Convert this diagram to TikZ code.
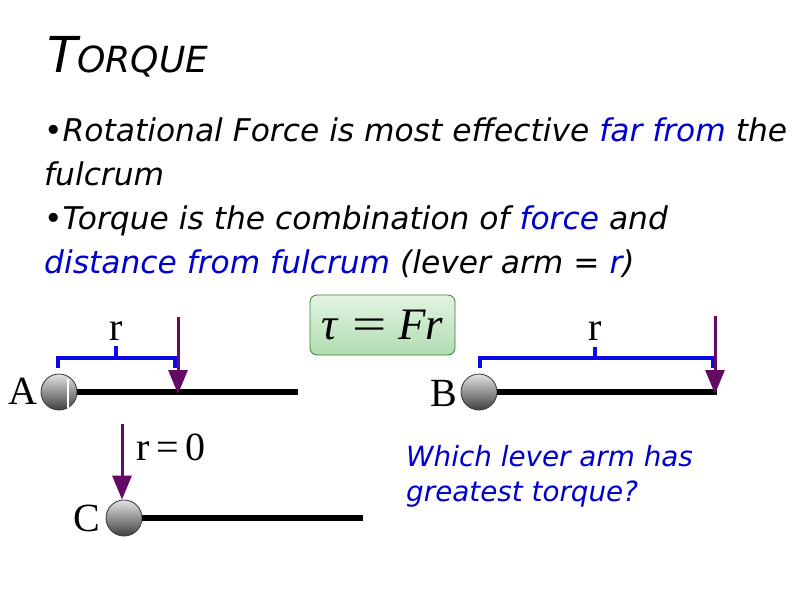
\documentclass[tikz,border=0pt]{standalone}
\usepackage{fontspec}
\usepackage{graphicx}
\setmainfont{DejaVu Sans}
\newfontfamily\tms{Liberation Serif}
\usetikzlibrary{arrows.meta}
\definecolor{txtblue}{RGB}{0,0,204}
\definecolor{brblue}{RGB}{10,10,230}
\definecolor{arrpurple}{RGB}{100,10,100}
\definecolor{boxtop}{RGB}{226,244,226}
\definecolor{boxbot}{RGB}{176,220,176}
\tikzset{
  body/.style={anchor=base west, inner sep=0pt, font=\fontsize{31.3}{31}\selectfont\itshape},
  serifl/.style={inner sep=0pt, font=\tms\fontsize{40}{40}\selectfont},
  qtext/.style={anchor=base west, inner sep=0pt, text=txtblue, font=\fontsize{27.8}{35}\selectfont\itshape},
  bar/.style={line width=6pt, black},
  bracket/.style={line width=4.5pt, brblue},
  force/.style={line width=3pt, arrpurple, -{Triangle[length=24pt,width=19pt]}},
  ball/.style={circle, minimum size=36pt, inner sep=0pt, draw=gray!40!black, line width=0.8pt, top color=gray!22, bottom color=gray!50!black},
}
\begin{document}
\begin{tikzpicture}[x=1pt,y=-1pt]
\useasboundingbox (0,0) rectangle (800,600);
\fill[white] (0,0) rectangle (800,600);
% title
\node[anchor=base west, inner sep=0pt, font=\itshape] (title) at (47,72)
  {\fontsize{49.5}{50}\selectfont T\fontsize{36}{36}\selectfont ORQUE};
% body text
\node[body] (l1) at (44,141) {•Rotational Force is most effective \textcolor{txtblue}{far from} the};
\node[body] (l2) at (44,185) {fulcrum};
\node[body] (l3) at (44,229) {•Torque is the combination of \textcolor{txtblue}{force} and};
\node[body] (l4) at (44,273) {\textcolor{txtblue}{distance from fulcrum} (lever arm = \textcolor{txtblue}{r})};
% formula box
\node[draw=gray!60!green!70!black, line width=0.8pt, rounded corners=7pt, top color=boxtop, bottom color=boxbot,
  minimum width=145pt, minimum height=60pt, inner sep=0pt] (formula) at (382.5,325)
  {\tms\fontsize{45}{45}\selectfont\textit{τ}\hspace{13pt}\scalebox{1.35}[1]{=}\hspace{12pt}\textit{Fr}};
% ---------- lever A ----------
\coordinate (Aend) at (298,392);
\node[ball] (ballA) at (59,392) {};
\draw[bar] (ballA.east) -- (Aend);
\draw[white, line width=1.2pt] (68,379) -- (68,408);
\node[serifl, anchor=east] (labA) at (38,391) {A};
\coordinate (brA1) at (58,368); \coordinate (brA2) at (175,368);
\coordinate (brAm) at (116,358); \coordinate (brAt) at (116,346);
\draw[bracket] (brA1) -- (58,358) -- (175,358) -- (brA2);
\draw[bracket] (brAm) -- (brAt);
\node[serifl, anchor=base] (rA) at (116,340) {r};
\coordinate (fA0) at (178,317); \coordinate (fA1) at (178,394);
\draw[force] (fA0) -- (fA1);
% ---------- lever B ----------
\coordinate (Bend) at (717,392);
\node[ball] (ballB) at (479,392) {};
\draw[bar] (ballB.east) -- (Bend);
\node[serifl, anchor=east] (labB) at (457,393) {B};
\coordinate (brB1) at (480,368); \coordinate (brB2) at (713,368);
\coordinate (brBm) at (595,358); \coordinate (brBt) at (595,347);
\draw[bracket] (brB1) -- (480,358) -- (713,358) -- (brB2);
\draw[bracket] (brBm) -- (brBt);
\node[serifl, anchor=base] (rB) at (595,340) {r};
\coordinate (fB0) at (715,316); \coordinate (fB1) at (715,394);
\draw[force] (fB0) -- (fB1);
% ---------- lever C ----------
\coordinate (Cend) at (363,518);
\node[ball] (ballC) at (124,518) {};
\draw[bar] (ballC.east) -- (Cend);
\node[serifl, anchor=east] (labC) at (100,518) {C};
\coordinate (fC0) at (122,424);
\draw[force] (fC0) -- (fC0 |- ballC.north);
\node[serifl, anchor=base west] (r0) at (136,460) {r\,=\,0};
% question
\node[qtext] (q) at (406,466) {Which lever arm has};
\node[qtext] (q2) at (406,501) {greatest torque?};
\end{tikzpicture}
\end{document}
